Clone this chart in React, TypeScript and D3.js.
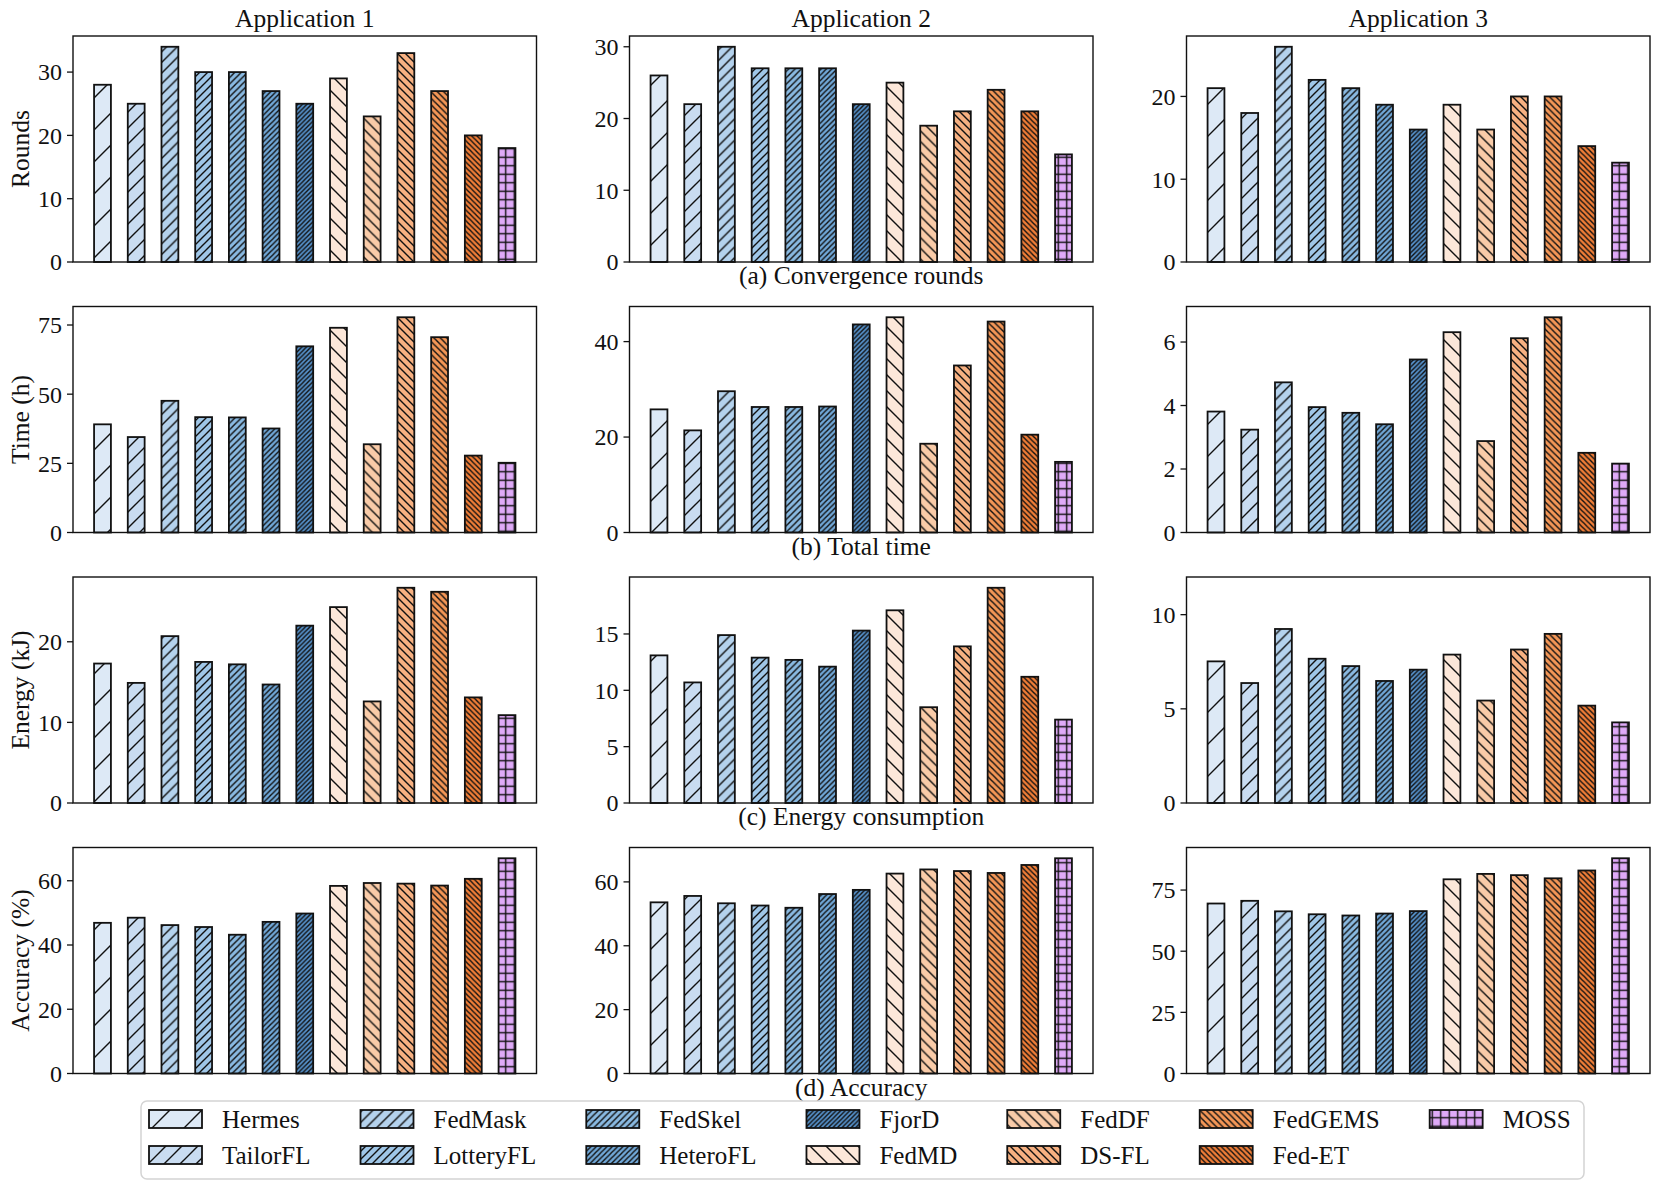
import React, { useMemo } from "react";
import * as d3 from "d3";

// ---------------- data ----------------
const methods = [
  "Hermes", "TailorFL", "FedMask", "LotteryFL", "FedSkel", "HeteroFL", "FjorD",
  "FedMD", "FedDF", "DS-FL", "FedGEMS", "Fed-ET", "MOSS",
];
const applications = ["Application 1", "Application 2", "Application 3"];
const metricLabels = ["Rounds", "Time (h)", "Energy (kJ)", "Accuracy (%)"];
const subCaptions = [
  "(a) Convergence rounds",
  "(b) Total time",
  "(c) Energy consumption",
  "(d) Accuracy",
];

const roundsApp1 = [28, 25, 34, 30, 30, 27, 25, 29, 23, 33, 27, 20, 18];
const roundsApp2 = [26, 22, 30, 27, 27, 27, 22, 25, 19, 21, 24, 21, 15];
const roundsApp3 = [21, 18, 26, 22, 21, 19, 16, 19, 16, 20, 20, 14, 12];

const timeApp1 = [39.1, 34.5, 47.6, 41.7, 41.6, 37.6, 67.3, 74.0, 31.9, 77.8, 70.6, 27.8, 25.2];
const timeApp2 = [25.8, 21.4, 29.6, 26.3, 26.3, 26.4, 43.6, 45.1, 18.6, 35.0, 44.2, 20.5, 14.8];
const timeApp3 = [3.81, 3.24, 4.73, 3.95, 3.77, 3.41, 5.45, 6.31, 2.88, 6.12, 6.78, 2.51, 2.17];

const energyApp1 = [17.3, 14.9, 20.7, 17.5, 17.2, 14.7, 22.0, 24.3, 12.6, 26.7, 26.2, 13.1, 10.9];
const energyApp2 = [13.1, 10.7, 14.9, 12.9, 12.7, 12.1, 15.3, 17.1, 8.5, 13.9, 19.1, 11.2, 7.4];
const energyApp3 = [7.52, 6.37, 9.24, 7.66, 7.27, 6.48, 7.08, 7.88, 5.44, 8.15, 8.98, 5.17, 4.28];

const accuracyApp1 = [46.9, 48.5, 46.2, 45.6, 43.2, 47.2, 49.8, 58.4, 59.3, 59.1, 58.5, 60.6, 67.0];
const accuracyApp2 = [53.6, 55.6, 53.3, 52.6, 51.9, 56.2, 57.5, 62.6, 63.9, 63.4, 62.8, 65.3, 67.4];
const accuracyApp3 = [69.5, 70.6, 66.3, 65.1, 64.6, 65.4, 66.4, 79.4, 81.6, 81.1, 79.8, 83.0, 88.0];

const roundsTicks = [[0, 10, 20, 30], [0, 10, 20, 30], [0, 10, 20]];
const timeTicks = [[0, 25, 50, 75], [0, 20, 40], [0, 2, 4, 6]];
const energyTicks = [[0, 10, 20], [0, 5, 10, 15], [0, 5, 10]];
const accuracyTicks = [[0, 20, 40, 60], [0, 20, 40, 60], [0, 25, 50, 75]];

const seriesByMetric = [
  [roundsApp1, roundsApp2, roundsApp3],
  [timeApp1, timeApp2, timeApp3],
  [energyApp1, energyApp2, energyApp3],
  [accuracyApp1, accuracyApp2, accuracyApp3],
];
const ticksByMetric = [roundsTicks, timeTicks, energyTicks, accuracyTicks];
// explicit y-limit for the energy panel of application 3
const energyApp3Limit = 12;

// ---------------- styles ----------------
const barColors = [
  "#dde9f6", "#c9dcf1", "#b4d2ed", "#9fc6e7", "#89b9e1", "#70a7d7", "#5590c9",
  "#fce7d9", "#f9cba8", "#f6b081", "#f39656", "#ef7d37", "#dfaaf8",
];
const hatchKinds = ["/", "/", "/", "/", "/", "/", "/", "\\", "\\", "\\", "\\", "\\", "+"];
const hatchSpacing = [32, 16, 10.67, 8, 6.4, 5.33, 4.57, 16, 10.67, 8, 6.4, 5.33, 8.5];

const FONT = "'Liberation Serif', 'Times New Roman', serif";
const W = 1660;
const H = 1190;
const colLefts = [73, 629.5, 1186.5];
const axW = 463.5;
const rowTops = [36, 306.5, 577, 847.5];
const axH = 226;

function hatchPath(kind: string, s: number) {
  if (kind === "/") {
    return `M${-s / 2},${s / 2}L${s / 2},${-s / 2}M0,${s}L${s},0M${s / 2},${1.5 * s}L${1.5 * s},${s / 2}`;
  }
  if (kind === "\\") {
    return `M${-s / 2},${s / 2}L${s / 2},${1.5 * s}M0,0L${s},${s}M${s / 2},${-s / 2}L${1.5 * s},${s / 2}`;
  }
  return `M0,${s / 2}H${s}M${s / 2},0V${s}`;
}

function Panel({ r, c }: { r: number; c: number }) {
  const values = seriesByMetric[r][c];
  const ticks = ticksByMetric[r][c];
  const left = colLefts[c];
  const top = rowTops[r];
  const bottom = top + axH;
  const right = left + axW;
  const n = values.length;
  const barW = 0.5;
  const span = n - 1 + barW;
  const x = d3
    .scaleLinear()
    .domain([-barW / 2 - span * 0.05, n - 1 + barW / 2 + span * 0.05])
    .range([left, right]);
  const ymax = r === 2 && c === 2 ? energyApp3Limit : (d3.max(values) as number) * 1.05;
  const y = d3.scaleLinear().domain([0, ymax]).range([bottom, top]);
  const bw = x(barW) - x(0);
  return (
    <g>
      {values.map((v, i) => (
        <rect
          key={i}
          x={x(i) - bw / 2}
          y={y(v)}
          width={bw}
          height={y(0) - y(v)}
          fill={`url(#hatch-${i})`}
          stroke="#111"
          strokeWidth={1.8}
        />
      ))}
      <rect x={left} y={top} width={axW} height={axH} fill="none" stroke="#111" strokeWidth={1.4} />
      {ticks.map((t) => (
        <g key={t}>
          <line x1={left - 6} x2={left} y1={y(t)} y2={y(t)} stroke="#111" strokeWidth={1.3} />
          <text
            x={left - 11}
            y={y(t)}
            dy="0.35em"
            textAnchor="end"
            fontFamily={FONT}
            fontSize={24}
            fill="#111"
          >
            {t}
          </text>
        </g>
      ))}
      {r === 0 && (
        <text x={(left + right) / 2} y={27} textAnchor="middle" fontFamily={FONT} fontSize={25.5} fill="#111">
          {applications[c]}
        </text>
      )}
      {c === 0 && (
        <text
          transform={`translate(${20},${(top + bottom) / 2}) rotate(-90)`}
          textAnchor="middle"
          dy="0.35em"
          fontFamily={FONT}
          fontSize={25.5}
          fill="#111"
        >
          {metricLabels[r]}
        </text>
      )}
      {c === 1 && (
        <text x={(left + right) / 2} y={bottom + 22} textAnchor="middle" fontFamily={FONT} fontSize={25.5} fill="#111">
          {subCaptions[r]}
        </text>
      )}
    </g>
  );
}

function Legend() {
  const fontSize = 25;
  const handleW = 53;
  const handleH = 18;
  const textGap = 20;
  const colSpacing = 50;
  const x0 = 149;
  const rowY = [1110, 1146];
  const nCols = Math.ceil(methods.length / 2);
  const colX = useMemo(() => {
    const ctx = document.createElement("canvas").getContext("2d");
    const measure = (s: string) => {
      if (!ctx) return s.length * fontSize * 0.5;
      ctx.font = `${fontSize}px 'Liberation Serif'`;
      return ctx.measureText(s).width;
    };
    const xs: number[] = [];
    let cur = x0;
    for (let k = 0; k < nCols; k++) {
      xs.push(cur);
      const labels = methods.slice(k * 2, k * 2 + 2);
      const wMax = Math.max(...labels.map(measure));
      cur += handleW + textGap + wMax + colSpacing;
    }
    return xs;
  }, []);
  return (
    <g>
      <rect x={141} y={1101} width={1443} height={78} rx={6} fill="#fff" stroke="#d4d4d4" strokeWidth={1.5} />
      {methods.map((m, i) => {
        const col = Math.floor(i / 2);
        const row = i % 2;
        const hx = colX[col];
        const hy = rowY[row];
        return (
          <g key={m}>
            <rect x={hx} y={hy} width={handleW} height={handleH} fill={`url(#hatch-${i})`} stroke="#111" strokeWidth={1.8} />
            <text
              x={hx + handleW + textGap}
              y={hy + handleH / 2}
              dy="0.35em"
              fontFamily={FONT}
              fontSize={fontSize}
              fill="#111"
            >
              {m}
            </text>
          </g>
        );
      })}
    </g>
  );
}

export default function App() {
  return (
    <svg
      width={W}
      height={H}
      viewBox={`0 0 ${W} ${H}`}
      style={{ position: "absolute", left: 0, top: 0, background: "#fff" }}
    >
      <defs>
        {methods.map((m, i) => {
          const s = hatchSpacing[i];
          return (
            <pattern key={m} id={`hatch-${i}`} patternUnits="userSpaceOnUse" width={s} height={s}>
              <rect width={s} height={s} fill={barColors[i]} />
              <path d={hatchPath(hatchKinds[i], s)} stroke="#111" strokeWidth={1.4} fill="none" />
            </pattern>
          );
        })}
      </defs>
      <rect x={0} y={0} width={W} height={H} fill="#fff" />
      {metricLabels.map((_, r) =>
        applications.map((__, c) => <Panel key={`${r}-${c}`} r={r} c={c} />)
      )}
      <Legend />
    </svg>
  );
}
